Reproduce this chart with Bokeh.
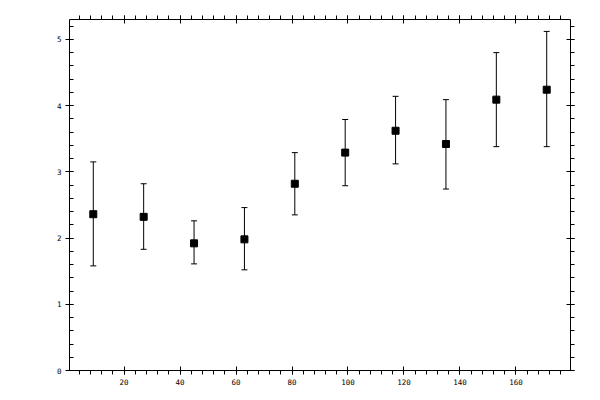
from bokeh.models import ColumnDataSource, Range1d, LinearAxis, SingleIntervalTicker, Whisker, TeeHead, CustomJSTickFormatter
from bokeh.plotting import figure
from bokeh.embed import file_html
from bokeh.resources import INLINE

# values
xs = [9, 27, 45, 63, 81, 99, 117, 135, 153, 171]
ys = [2.36, 2.32, 1.92, 1.98, 2.82, 3.29, 3.62, 3.42, 4.09, 4.24]
upper = [3.15, 2.82, 2.26, 2.46, 3.29, 3.79, 4.14, 4.09, 4.80, 5.12]
lower = [1.58, 1.83, 1.61, 1.52, 2.35, 2.79, 3.12, 2.74, 3.38, 3.38]

source = ColumnDataSource(data=dict(x=xs, y=ys, upper=upper, lower=lower))

p = figure(frame_width=501, frame_height=351,
           x_range=Range1d(0.5, 179.5), y_range=Range1d(0, 5.3),
           x_axis_location=None, y_axis_location=None,
           output_backend="svg", toolbar_location=None)
p.min_border = 0
p.min_border_left = 69
p.min_border_top = 19
p.min_border_right = 22
p.min_border_bottom = 22
p.outline_line_color = None
p.xgrid.visible = False
p.ygrid.visible = False

font = "DejaVu Sans Mono"


def make_axis(ticker, labels, minor_in, minor_out):
    ax = LinearAxis(ticker=ticker)
    ax.axis_line_color = "black"
    ax.axis_line_width = 1
    ax.major_tick_in = 4
    ax.major_tick_out = 4
    ax.minor_tick_in = minor_in
    ax.minor_tick_out = minor_out
    ax.major_tick_line_color = "black"
    ax.minor_tick_line_color = "black"
    ax.major_label_text_font = font
    ax.major_label_text_font_size = "7.5px"
    ax.major_label_text_color = "black"
    ax.major_label_standoff = 4
    if not labels:
        ax.formatter = CustomJSTickFormatter(code="return ''")
        ax.major_label_standoff = 0
    return ax


xt = SingleIntervalTicker(interval=20, num_minor_ticks=5)
yt = SingleIntervalTicker(interval=1, num_minor_ticks=5)

p.add_layout(make_axis(xt, True, 0, 4), "below")
p.add_layout(make_axis(xt, False, 0, 4), "above")
p.add_layout(make_axis(yt, True, 4, 0), "left")
p.add_layout(make_axis(yt, False, 0, 4), "right")

p.add_layout(Whisker(source=source, base="x", upper="upper", lower="lower",
                     line_color="black", line_width=1,
                     upper_head=TeeHead(size=6, line_color="black", line_width=1),
                     lower_head=TeeHead(size=6, line_color="black", line_width=1)))

p.scatter("x", "y", source=source, marker="square", size=7,
          fill_color="black", line_color="black")

open("out.html", "w").write(file_html(p, INLINE))
